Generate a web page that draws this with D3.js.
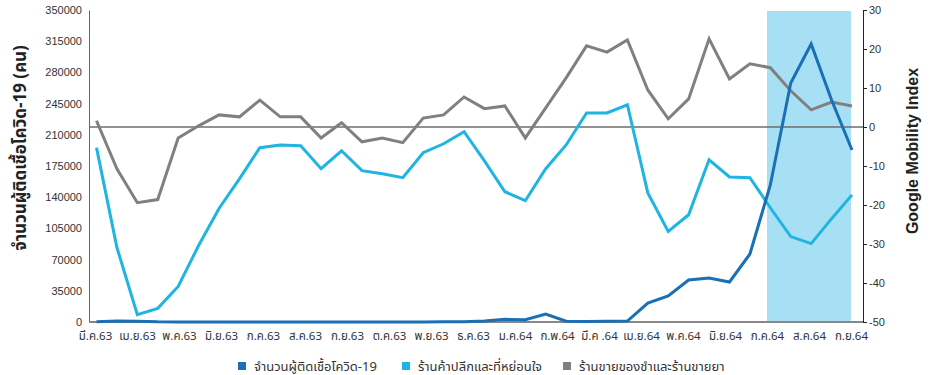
<!DOCTYPE html>
<html>
<head>
<meta charset="utf-8">
<script src="https://cdn.jsdelivr.net/npm/d3@7"></script>
<style>
  html, body { margin: 0; padding: 0; background: #fff; }
  svg { display: block; }
  .tick text { font-family: "Liberation Sans", Arial, sans-serif; }
</style>
</head>
<body>
<svg id="chart" width="932" height="375"></svg>
<script>
// Month labels along the bottom
const months = ["มี.ค.63","เม.ย.63","พ.ค.63","มิ.ย.63","ก.ค.63","ส.ค.63","ก.ย.63","ต.ค.63","พ.ย.63","ธ.ค.63",
  "ม.ค.64","ก.พ.64","มี.ค .64","เม.ย.64","พ.ค.64","มิ.ย.64","ก.ค.64","ส.ค.64","ก.ย.64"];

// Half-monthly observations, March 2020 – September 2021
const cases = [200, 1200, 900, 150, 60, 40, 40, 50, 60, 70, 50, 60, 80, 70, 90, 100, 120, 150, 300, 1000,
  3000, 2500, 9000, 800, 500, 800, 1000, 21300, 29200, 47100, 49400, 44900, 76300, 153700, 268100, 311800, 249000, 193000];
const retail = [-5.3, -30.9, -48.1, -46.5, -40.9, -30.4, -20.9, -13.3, -5.3, -4.6, -4.8, -10.7, -6.1, -11.2, -12.0,
  -13.0, -6.6, -4.3, -1.2, -8.7, -16.6, -18.9, -10.7, -4.6, 3.6, 3.6, 5.7, -16.9, -26.8, -22.5, -8.4, -12.8, -13.0,
  -20.7, -28.1, -29.9, -23.5, -17.4];
const grocery = [1.6, -10.7, -19.4, -18.6, -2.8, 0.3, 3.1, 2.6, 6.9, 2.6, 2.6, -2.8, 1.1, -3.8, -2.8, -4.0, 2.3, 3.1,
  7.7, 4.7, 5.4, -2.8, 4.9, 12.6, 20.8, 19.2, 22.3, 9.5, 2.1, 7.2, 22.6, 12.3, 16.2, 15.2, 9.3, 4.4, 6.4, 5.4];

// Axis ticks
const leftTicks = [0, 35000, 70000, 105000, 140000, 175000, 210000, 245000, 280000, 315000, 350000];
const rightTicks = [-50, -40, -30, -20, -10, 0, 10, 20, 30];

// Shaded period
const highlight = ["ก.ค.64", "ก.ย.64"];

const seriesNames = ["จำนวนผู้ติดเชื้อโควิด-19", "ร้านค้าปลีกและที่หย่อนใจ", "ร้านขายของชำและร้านขายยา"];
const colors = ["#1b6fb4", "#1fb4e1", "#808080"];

const thaiFont = '"Noto Sans Thai", "Noto Sans Thai Looped", "Noto Sans", sans-serif';

const svg = d3.select("#chart");
const plot = { left: 89, right: 863, top: 10, bottom: 322 };

const x = d3.scaleLinear().domain([0, cases.length - 1]).range([96.5, 852]);
const xMonth = d3.scalePoint().domain(months).range([95, 851]);
const yLeft = d3.scaleLinear().domain([0, 350000]).range([plot.bottom, plot.top]);
const yRight = d3.scaleLinear().domain([-50, 30]).range([plot.bottom, plot.top]);

// Highlighted months
svg.append("rect")
  .attr("x", xMonth(highlight[0]))
  .attr("y", plot.top + 1)
  .attr("width", xMonth(highlight[1]) - xMonth(highlight[0]))
  .attr("height", plot.bottom - plot.top - 1)
  .attr("fill", "#a7e0f4");

// Zero line of the mobility index
svg.append("line")
  .attr("x1", plot.left).attr("x2", plot.right)
  .attr("y1", yRight(0)).attr("y2", yRight(0))
  .attr("stroke", "#6e6e6e").attr("stroke-width", 1.6);

// Left axis
const gLeft = svg.append("g").attr("transform", `translate(${plot.left},0)`)
  .call(d3.axisLeft(yLeft).tickValues(leftTicks).tickSize(0).tickPadding(7).tickFormat(d3.format("d")));
gLeft.select(".domain").attr("stroke", "#666").attr("stroke-width", 1);
gLeft.selectAll("text").attr("font-size", 11).attr("fill", "#333");

// Right axis
const gRight = svg.append("g").attr("transform", `translate(${plot.right},0)`)
  .call(d3.axisRight(yRight).tickValues(rightTicks).tickSize(4).tickPadding(2)
    .tickFormat(d => d < 0 ? "-" + Math.abs(d) : String(d)));
gRight.select(".domain").attr("stroke", "#222").attr("stroke-width", 1);
gRight.selectAll(".tick line").attr("stroke", "#222");
gRight.selectAll("text").attr("font-size", 11).attr("fill", "#333");

// Bottom axis with month labels
const gBottom = svg.append("g").attr("transform", `translate(0,${plot.bottom})`)
  .call(d3.axisBottom(xMonth).tickSize(0).tickPadding(10));
gBottom.select(".domain").remove();
gBottom.selectAll("text").attr("font-size", 11.5).attr("fill", "#333").style("font-family", thaiFont);
svg.append("line")
  .attr("x1", plot.left).attr("x2", plot.right)
  .attr("y1", plot.bottom).attr("y2", plot.bottom)
  .attr("stroke", "#888").attr("stroke-width", 2);

// Series lines
const lineLeft = d3.line().x((d, i) => x(i)).y(d => yLeft(d));
const lineRight = d3.line().x((d, i) => x(i)).y(d => yRight(d));

svg.append("path").datum(grocery)
  .attr("d", lineRight).attr("fill", "none")
  .attr("stroke", colors[2]).attr("stroke-width", 3).attr("stroke-linejoin", "miter");
svg.append("path").datum(retail)
  .attr("d", lineRight).attr("fill", "none")
  .attr("stroke", colors[1]).attr("stroke-width", 3).attr("stroke-linejoin", "miter");
svg.append("path").datum(cases)
  .attr("d", lineLeft).attr("fill", "none")
  .attr("stroke", colors[0]).attr("stroke-width", 3).attr("stroke-linejoin", "miter");

// Axis titles
svg.append("text")
  .attr("transform", "translate(26,148) rotate(-90)")
  .attr("text-anchor", "middle")
  .attr("font-size", 17).attr("font-weight", "bold").attr("fill", "#222")
  .style("font-family", thaiFont)
  .text("จำนวนผู้ติดเชื้อโควิด-19 (คน)");

svg.append("text")
  .attr("transform", "translate(918,151) rotate(-90)")
  .attr("text-anchor", "middle")
  .attr("font-size", 16).attr("font-weight", 600).attr("fill", "#222")
  .style("font-family", '"Liberation Sans", Arial, sans-serif')
  .text("Google Mobility Index");

// Legend
const legendX = [238, 402, 563];
const legend = svg.append("g");
seriesNames.forEach((name, i) => {
  legend.append("rect")
    .attr("x", legendX[i]).attr("y", 362).attr("width", 8).attr("height", 8)
    .attr("fill", colors[i]);
  legend.append("text")
    .attr("x", legendX[i] + 16).attr("y", 370.5)
    .attr("font-size", 13).attr("fill", "#333")
    .style("font-family", thaiFont)
    .text(name);
});
</script>
</body>
</html>
